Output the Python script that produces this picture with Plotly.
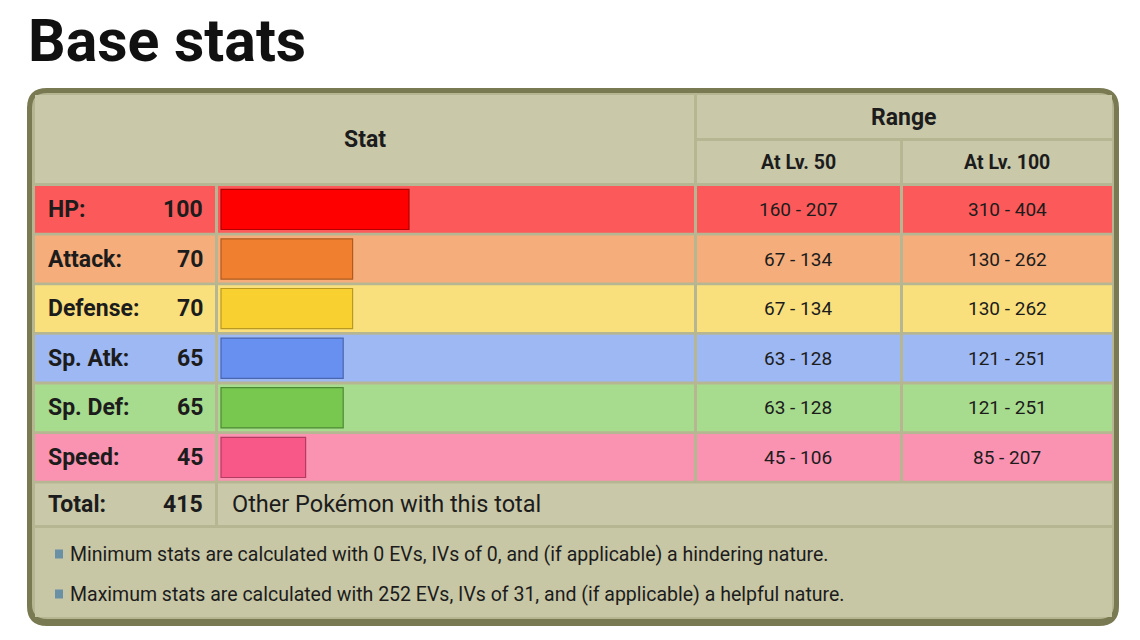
import plotly.graph_objects as go

# ---------------- data ----------------
stat_names = ["HP", "Attack", "Defense", "Sp. Atk", "Sp. Def", "Speed"]
stat_values = [100, 70, 70, 65, 65, 45]
range_lv50 = ["160 - 207", "67 - 134", "67 - 134", "63 - 128", "63 - 128", "45 - 106"]
range_lv100 = ["310 - 404", "130 - 262", "130 - 262", "121 - 251", "121 - 251", "85 - 207"]
total_value = 415
total_text = "Other Pokémon with this total"
notes = [
    "Minimum stats are calculated with 0 EVs, IVs of 0, and (if applicable) a hindering nature.",
    "Maximum stats are calculated with 252 EVs, IVs of 31, and (if applicable) a helpful nature.",
]
title = "Base stats"
header_stat = "Stat"
header_range = "Range"
header_lv = ["At Lv. 50", "At Lv. 100"]

# ---------------- styles ----------------
row_bg = ["#fc5a5a", "#f5ad7b", "#fae07c", "#9db8f3", "#a7db8d", "#fa92b2"]
bar_fill = ["#ff0000", "#f08030", "#f8d030", "#6890f0", "#78c850", "#f85888"]
bar_line = ["#b30000", "#b05a1f", "#b89a22", "#4a66ad", "#4e8a34", "#b33d62"]
OFF = 0
W, H = 1140, 640
FONT = "Roboto"
TXT = "#1c1c1c"
HEAD_BG = "#c9c8a9"
BORDER = "#797a52"
GAP = "#b7b693"

ROW_TOP = 186.0
PITCH = 49.6
ROW_H = 46.8
BAR_X0 = 221.0
PX_PER_UNIT = 1.88


def px(x):
    return (x - OFF) / W


def py(y):
    return 1 - (y - OFF) / H


def rect(x0, y0, x1, y1, fill, line_color=None, lw=0):
    return dict(type="rect", xref="paper", yref="paper",
                x0=px(x0), x1=px(x1), y0=py(y1), y1=py(y0),
                fillcolor=fill, line=dict(width=lw, color=line_color or fill),
                layer="below")


def rrect(x0, y0, x1, y1, r, fill):
    def P(x, y):
        return f"{px(x):.6f},{py(y):.6f}"
    path = (f"M {P(x0 + r, y0)} L {P(x1 - r, y0)} Q {P(x1, y0)} {P(x1, y0 + r)} "
            f"L {P(x1, y1 - r)} Q {P(x1, y1)} {P(x1 - r, y1)} "
            f"L {P(x0 + r, y1)} Q {P(x0, y1)} {P(x0, y1 - r)} "
            f"L {P(x0, y0 + r)} Q {P(x0, y0)} {P(x0 + r, y0)} Z")
    return dict(type="path", xref="paper", yref="paper", path=path,
                fillcolor=fill, line=dict(width=0), layer="below")


def ann(text, x, y, size, bold=False, xanchor="left", color=TXT):
    t = f"<b>{text}</b>" if bold else text
    return dict(text=t, x=px(x), y=py(y), xref="paper", yref="paper",
                xanchor=xanchor, yanchor="middle", showarrow=False,
                font=dict(family=FONT, size=size, color=color))


shapes = []
annotations = []

# outer box
shapes.append(rrect(27, 88, 1119, 626, 20, BORDER))
shapes.append(rrect(32, 93, 1114, 619, 15, GAP))

# header
shapes.append(rect(35, 95, 694, 183, HEAD_BG))
shapes.append(rect(697, 95, 1112, 138, HEAD_BG))
shapes.append(rect(697, 141, 900, 183, HEAD_BG))
shapes.append(rect(903, 141, 1112, 183, HEAD_BG))
annotations.append(ann(header_stat, 365, 139, 23, True, "center"))
annotations.append(ann(header_range, 904, 117, 23, True, "center"))
annotations.append(ann(header_lv[0], 798, 162, 19.5, True, "center"))
annotations.append(ann(header_lv[1], 1007, 162, 19.5, True, "center"))

# stat rows
for i, name in enumerate(stat_names):
    y0 = ROW_TOP + i * PITCH
    y1 = y0 + ROW_H
    yc = (y0 + y1) / 2
    shapes.append(rect(35, y0, 215, y1, row_bg[i]))
    shapes.append(rect(218, y0, 694, y1, row_bg[i]))
    shapes.append(rect(697, y0, 900, y1, row_bg[i]))
    shapes.append(rect(903, y0, 1112, y1, row_bg[i]))
    annotations.append(ann(name + ":", 46, yc, 23, True, "left"))
    annotations.append(ann(str(stat_values[i]), 205, yc, 23, True, "right"))
    annotations.append(ann(range_lv50[i], 798, yc, 19, False, "center"))
    annotations.append(ann(range_lv100[i], 1007, yc, 19, False, "center"))

# total row
ty0 = ROW_TOP + 6 * PITCH
ty1 = 525
tyc = (ty0 + ty1) / 2
shapes.append(rect(35, ty0, 215, ty1, HEAD_BG))
shapes.append(rect(218, ty0, 1112, ty1, HEAD_BG))
annotations.append(ann("Total:", 46, tyc, 23, True, "left"))
annotations.append(ann(str(total_value), 205, tyc, 23, True, "right"))
annotations.append(ann(total_text, 230, tyc, 23.5, False, "left"))

# notes
shapes.append(rect(35, 528, 1112, 617, "#c7c6a5"))
for j, note in enumerate(notes):
    yc = 554 + j * 40
    shapes.append(rect(55, yc - 4.5, 63, yc + 4.5, "#6a90a6"))
    annotations.append(ann(note, 68, yc, 19.5, False, "left"))

# title
annotations.append(ann(title, 26, 40, 59, True, "left", "#111111"))

# ---------------- bars through axes ----------------
fig = go.Figure()
fig.add_trace(go.Bar(
    x=stat_values, y=stat_names, orientation="h", base=0,
    width=0.81,
    marker=dict(color=bar_fill, line=dict(color=bar_line, width=1.2)),
    hoverinfo="skip",
))

x_lo = (OFF - BAR_X0) / PX_PER_UNIT
x_hi = (OFF + W - BAR_X0) / PX_PER_UNIT
first_center = ROW_TOP + ROW_H / 2
y_top = (OFF - first_center) / PITCH
y_bot = (OFF + H - first_center) / PITCH

fig.update_layout(
    width=W, height=H,
    margin=dict(l=0, r=0, t=0, b=0),
    paper_bgcolor="white",
    plot_bgcolor="rgba(0,0,0,0)",
    showlegend=False,
    shapes=shapes,
    annotations=annotations,
    bargap=0,
    hovermode=False,
    xaxis=dict(range=[x_lo, x_hi], visible=False, fixedrange=True),
    yaxis=dict(type="category", categoryorder="array", categoryarray=stat_names,
               range=[y_bot, y_top], visible=False, fixedrange=True),
)

fig.write_html(
    "out.html",
    config={"displayModeBar": False, "staticPlot": True},
    post_script="document.body.style.margin='0';document.body.style.overflow='hidden';",
)
